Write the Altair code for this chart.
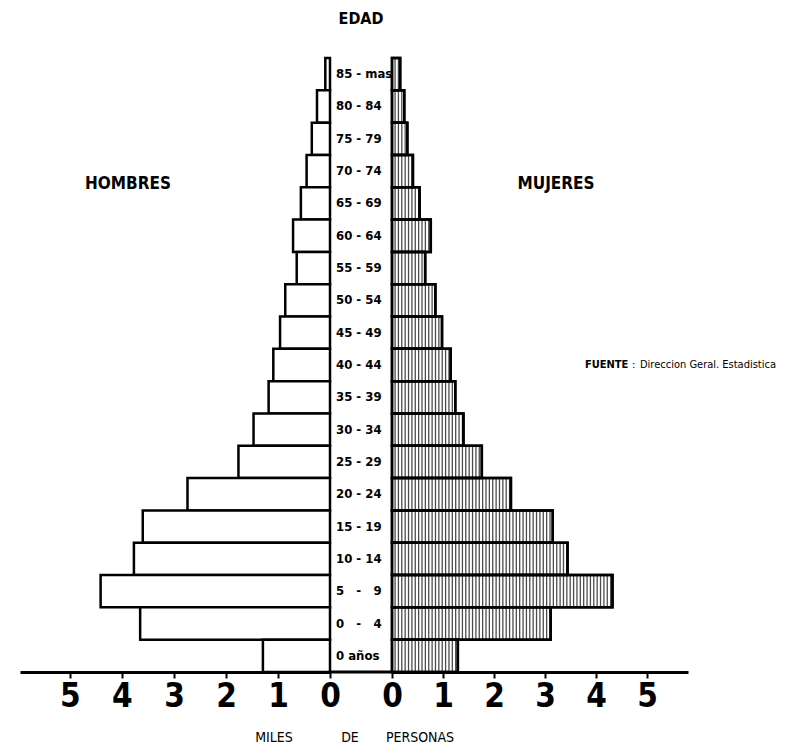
import altair as alt
import pandas as pd

NB = "\u00a0"
edades = ["85 - mas", "80 - 84", "75 - 79", "70 - 74", "65 - 69", "60 - 64",
          "55 - 59", "50 - 54", "45 - 49", "40 - 44", "35 - 39", "30 - 34",
          "25 - 29", "20 - 24", "15 - 19", "10 - 14",
          "5" + NB * 3 + "-" + NB * 3 + "9", "0" + NB * 3 + "-" + NB * 3 + "4", "0 años"]
hombres = [0.09, 0.25, 0.35, 0.45, 0.56, 0.71, 0.64, 0.86, 0.96, 1.09, 1.18, 1.47,
           1.76, 2.74, 3.60, 3.77, 4.41, 3.65, 1.29]
mujeres = [0.16, 0.24, 0.30, 0.41, 0.54, 0.76, 0.65, 0.85, 0.98, 1.15, 1.24, 1.40,
           1.76, 2.33, 3.15, 3.44, 4.32, 3.11, 1.29]
ticks = [0, 1, 2, 3, 4, 5]

df = pd.DataFrame({"edad": edades, "hombres": hombres, "mujeres": mujeres})

NARROW = "Liberation Sans Narrow, DejaVu Sans Condensed, sans-serif"
H = 614
ysc = alt.Scale(domain=edades, paddingInner=0, paddingOuter=0)
Y = alt.Y("edad:N", scale=ysc, axis=None)

axis_cfg = dict(values=ticks, format="d", title=None, grid=False,
                domainColor="black", domainWidth=3, tickColor="black",
                tickWidth=2, tickSize=6, labelFont=NARROW, labelFontSize=33,
                labelFontWeight="bold", labelColor="black", labelPadding=2,
                labelFlush=False)

def note(text, x, y, size=15, weight="bold", align="center", font=NARROW):
    return alt.Chart(pd.DataFrame({"t": [text]})).mark_text(
        font=font, fontSize=size, fontWeight=weight, align=align,
        baseline="middle", color="black").encode(
        text="t:N", x=alt.value(x), y=alt.value(y))

# Left panel: HOMBRES
xl = alt.X("hombres:Q", scale=alt.Scale(domain=[0, 5.96], reverse=True),
           axis=alt.Axis(**axis_cfg))
bars_l = alt.Chart(df).mark_bar(fill="white", stroke="black", strokeWidth=2.5).encode(x=xl, y=Y)
left = alt.layer(bars_l, note("HOMBRES", 108, 126, size=17)).properties(width=310, height=H)

# Center panel: age labels
labels = alt.Chart(df).mark_text(align="left", baseline="middle",
                                 font="DejaVu Sans Condensed, DejaVu Sans",
                                 fontWeight="bold", fontSize=13, color="black").encode(
    x=alt.value(6), y=Y, text="edad:N")
axis_line = alt.Chart(pd.DataFrame({"a": [0]})).mark_rule(strokeWidth=3, color="black").encode(
    x=alt.value(0), x2=alt.value(62), y=alt.value(H))
center = alt.layer(
    labels, axis_line,
    note("EDAD", 31, -39, size=16),
    note("MILES", -56, 680, size=14, weight="normal"),
    note("DE", 20, 680, size=14, weight="normal"),
    note("PERSONAS", 90, 680, size=14, weight="normal"),
).properties(width=62, height=H)

# Right panel: MUJERES (hatched)
xsc_r = alt.Scale(domain=[0, 5.8])
bars_r = alt.Chart(df).mark_bar(fill="white", stroke="black", strokeWidth=2.5).encode(
    x=alt.X("mujeres:Q", scale=xsc_r, axis=alt.Axis(**axis_cfg)), y=Y)
hatch = alt.Chart(df).transform_calculate(
    h="sequence(0.06, datum.mujeres, 0.066)").transform_flatten(["h"]).mark_tick(
    color="black", thickness=1.3, size=31).encode(
    x=alt.X("h:Q", scale=xsc_r, axis=alt.Axis(**axis_cfg)), y=Y)
outline_r = alt.Chart(df).mark_bar(fillOpacity=0, stroke="black", strokeWidth=2.5).encode(
    x=alt.X("mujeres:Q", scale=xsc_r, axis=alt.Axis(**axis_cfg)), y=Y)
right = alt.layer(
    bars_r, hatch, outline_r,
    note("MUJERES", 164, 126, size=17),
    note("FUENTE", 193, 307, size=11, align="left"),
    note(":", 240, 307, size=11, weight="normal", align="left"),
    note("Direccion Geral.  Estadistica", 248, 307, size=11, weight="normal", align="left"),
).properties(width=296, height=H)

chart = alt.hconcat(left, center, right, spacing=0, bounds="flush").properties(
    padding={"left": 12, "top": 3, "right": 0, "bottom": 0}
).configure_view(stroke=None)

chart.save("out.html", embed_options={"renderer": "svg", "actions": False})
